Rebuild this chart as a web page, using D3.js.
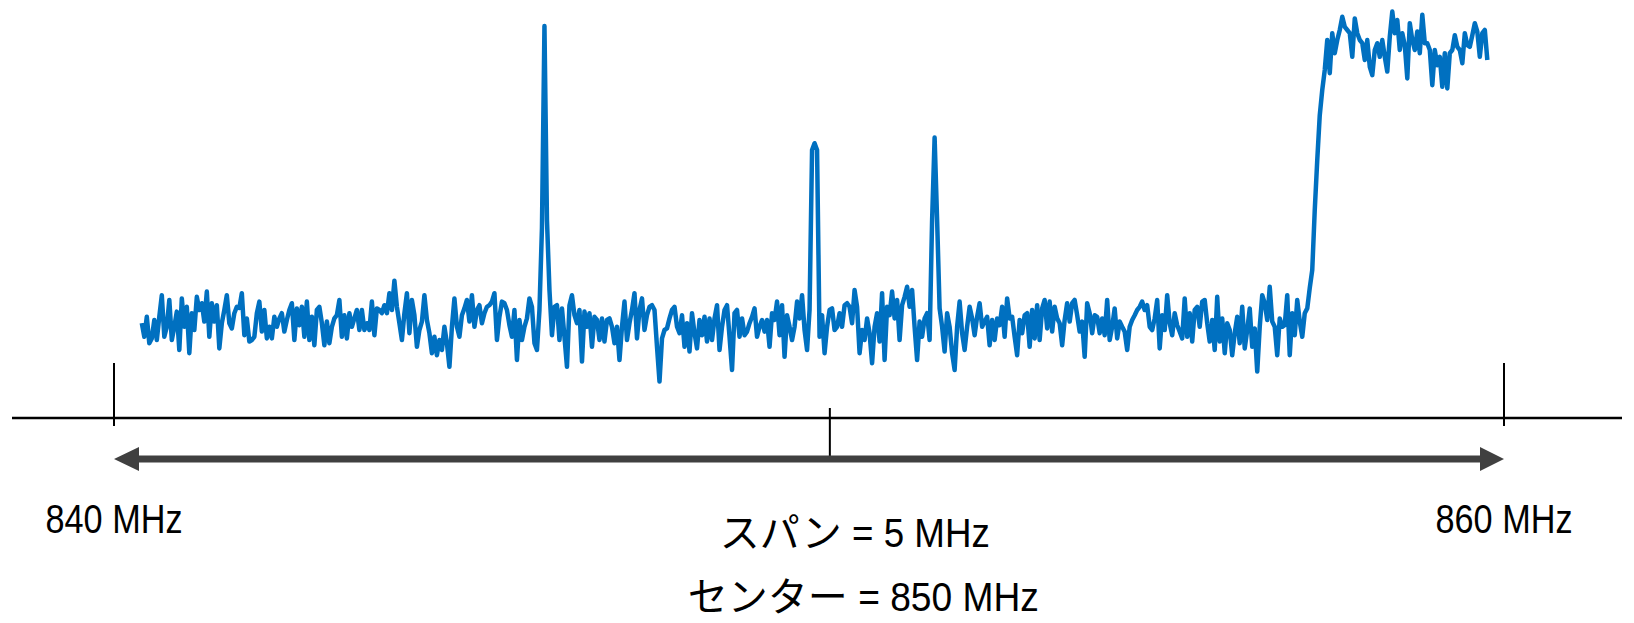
<!DOCTYPE html>
<html>
<head>
<meta charset="utf-8">
<script src="https://cdn.jsdelivr.net/npm/d3@7"></script>
<style>
  body { margin: 0; background: #fff; }
  svg { display: block; }
</style>
</head>
<body>
<script>
// axis / sweep settings, MHz
var axisStart = 840, axisStop = 860;
var traceStart = 840.4, traceStop = 859.76;
var centerMark = 850.3;
var tickFreqs = [840, 860];
var tickLabels = ['840 MHz', '860 MHz'];
var spanText = ['スパン', ' = 5 MHz'];
var centerText = ['センター', ' = 850 MHz'];

// trace levels (dBm), one per sweep point
var levels = [
  -75.8,-79.2,-74.2,-80.8,-79.6,-75.0,-80.0,-74.2,-68.8,-79.2,
  -76.7,-70.0,-80.0,-76.7,-72.9,-82.5,-69.6,-76.7,-71.7,-83.3,
  -73.3,-77.5,-69.2,-72.5,-70.8,-75.4,-67.9,-79.2,-70.8,-75.4,
  -71.3,-82.1,-75.8,-72.5,-68.8,-75.8,-77.1,-73.3,-71.7,-72.0,
  -68.3,-78.8,-74.6,-80.4,-80.0,-79.2,-73.3,-70.4,-77.9,-72.5,
  -79.6,-76.7,-79.6,-74.2,-76.7,-74.6,-73.3,-77.9,-75.0,-72.5,
  -70.8,-80.0,-72.1,-76.3,-71.7,-79.2,-70.4,-80.0,-74.2,-81.3,
  -72.5,-71.7,-75.8,-81.3,-75.4,-80.8,-76.7,-74.6,-73.8,-70.0,
  -79.2,-73.8,-79.6,-73.3,-76.7,-74.6,-72.5,-77.5,-72.5,-77.5,
  -75.8,-77.5,-70.4,-78.8,-72.1,-72.5,-73.3,-71.3,-73.3,-68.3,
  -72.5,-65.2,-71.7,-75.8,-80.0,-73.3,-68.3,-78.3,-70.0,-73.8,
  -81.7,-77.5,-75.4,-68.8,-75.0,-78.3,-83.3,-79.2,-83.8,-80.0,
  -82.5,-76.7,-80.8,-86.7,-76.7,-69.6,-76.7,-79.2,-73.8,-72.1,
  -70.0,-75.4,-68.8,-76.7,-72.5,-71.3,-75.8,-73.3,-71.7,-71.3,
  -70.4,-68.3,-80.0,-74.2,-70.4,-70.8,-72.5,-76.3,-79.2,-72.5,
  -85.0,-75.0,-80.0,-76.7,-74.6,-69.6,-71.7,-80.8,-82.5,-72.5,
  -52.0,-1.5,-50.0,-67.5,-78.8,-71.7,-71.3,-80.0,-72.1,-79.2,
  -86.7,-71.3,-68.8,-73.8,-75.8,-72.5,-85.4,-72.9,-76.7,-73.3,
  -81.7,-74.2,-75.0,-80.0,-74.6,-80.4,-75.0,-74.6,-76.7,-80.8,
  -76.7,-85.0,-76.7,-70.4,-80.0,-75.8,-72.5,-68.3,-79.6,-72.5,
  -69.6,-77.5,-73.8,-71.7,-71.3,-72.5,-81.7,-90.4,-79.6,-77.5,
  -77.1,-74.6,-72.5,-71.7,-76.7,-78.3,-73.8,-81.7,-75.8,-82.9,
  -73.3,-78.3,-82.1,-75.0,-78.8,-74.2,-80.4,-74.6,-80.0,-74.6,
  -71.3,-82.5,-76.7,-72.5,-71.3,-79.2,-87.5,-73.3,-72.5,-79.2,
  -74.6,-78.8,-77.9,-75.8,-74.2,-72.1,-79.2,-76.7,-75.0,-77.9,
  -75.0,-81.7,-73.3,-75.0,-70.4,-78.8,-71.3,-84.2,-73.8,-76.7,
  -80.0,-76.7,-70.4,-74.6,-68.8,-77.5,-82.5,-72.5,-32.5,-30.8,
  -32.5,-79.2,-73.8,-83.3,-76.7,-72.5,-72.1,-77.5,-76.7,-73.3,
  -76.7,-71.3,-70.8,-71.7,-75.8,-67.5,-71.7,-83.3,-77.5,-80.0,
  -74.6,-78.3,-85.8,-76.7,-73.3,-80.4,-68.3,-85.0,-71.7,-73.8,
  -67.9,-74.6,-70.0,-80.0,-71.3,-69.2,-66.7,-71.7,-67.5,-76.7,
  -85.0,-75.4,-79.2,-74.6,-73.3,-80.0,-50.0,-29.4,-50.0,-72.1,
  -76.7,-82.9,-73.3,-76.7,-83.3,-87.5,-76.7,-70.4,-78.3,-82.5,
  -76.7,-71.7,-74.6,-78.8,-74.2,-70.8,-76.7,-75.4,-74.2,-81.3,
  -75.0,-80.0,-74.6,-76.3,-71.7,-79.2,-69.6,-74.6,-74.2,-79.2,
  -83.8,-75.0,-78.3,-73.8,-73.3,-81.7,-72.5,-79.6,-71.3,-80.0,
  -72.1,-70.0,-77.1,-70.4,-77.9,-71.7,-74.6,-75.8,-81.3,-75.0,
  -70.8,-75.4,-70.8,-70.0,-73.8,-77.9,-75.4,-84.2,-70.8,-73.3,
  -78.3,-73.8,-74.2,-78.3,-74.6,-78.8,-70.0,-80.0,-76.7,-72.1,
  -79.6,-75.4,-76.7,-77.9,-82.5,-76.7,-75.0,-73.8,-72.5,-71.7,
  -70.4,-72.5,-71.3,-76.7,-77.5,-74.6,-70.0,-82.1,-73.8,-77.5,
  -68.8,-75.8,-78.8,-73.3,-76.3,-77.9,-79.6,-69.6,-79.2,-73.3,
  -80.4,-72.5,-71.7,-76.7,-70.4,-70.0,-75.8,-80.4,-75.0,-82.5,
  -69.2,-80.4,-74.6,-83.3,-75.8,-77.5,-83.8,-78.3,-74.2,-80.8,
  -71.7,-82.1,-77.5,-72.1,-81.7,-77.1,-87.9,-76.7,-68.8,-70.8,
  -75.0,-66.7,-75.4,-76.7,-83.8,-74.6,-76.7,-76.3,-68.8,-83.8,
  -73.3,-78.8,-70.0,-75.4,-79.2,-73.3,-72.1,-67.0,-62.5,-47.5,
  -35.0,-23.8,-17.5,-12.5,-5.0,-13.3,-3.3,-8.3,-5.0,-2.5,
  0.8,-1.7,-2.5,-3.3,-9.2,0.4,-3.3,-5.0,-5.8,-10.0,
  -5.0,-11.7,-13.8,-7.5,-5.8,-9.2,-5.0,-9.2,-12.9,-4.2,
  2.1,-3.3,0.0,-7.5,-3.3,-6.3,-14.6,-0.8,-5.0,-7.5,
  -2.9,-8.3,1.3,-5.8,-5.8,-7.5,-16.3,-7.5,-11.3,-9.2,
  -16.7,-8.3,-17.1,-8.3,-7.5,-3.8,-6.7,-7.5,-10.8,-3.3,
  -6.3,-6.7,-3.8,-0.8,-2.9,-9.2,-3.3,-2.5,-10.0
];

var width = 1634, height = 623;
var axisY = 418;
var numFont = '"Liberation Sans", Arial, sans-serif';
var jpFont = '"Noto Sans CJK JP", sans-serif';

var svg = d3.select('body').append('svg')
    .attr('width', width)
    .attr('height', height);

var x = d3.scaleLinear().domain([axisStart, axisStop]).range([114, 1504]);
var y = d3.scaleLinear().domain([-100, 0]).range([420, 20]);

var step = (traceStop - traceStart) / (levels.length - 1);
var trace = levels.map(function (v, i) { return [traceStart + i * step, v]; });

// spectrum trace
svg.append('path')
    .datum(trace)
    .attr('fill', 'none')
    .attr('stroke', '#0070c0')
    .attr('stroke-width', 4.5)
    .attr('stroke-linejoin', 'round')
    .attr('d', d3.line().x(function (d) { return x(d[0]); }).y(function (d) { return y(d[1]); }));

// frequency axis
svg.append('line')
    .attr('x1', 12).attr('x2', width - 12)
    .attr('y1', axisY).attr('y2', axisY)
    .attr('stroke', '#000').attr('stroke-width', 2.5);

svg.selectAll('.tick')
    .data(tickFreqs)
    .enter().append('line')
    .attr('x1', function (d) { return x(d); })
    .attr('x2', function (d) { return x(d); })
    .attr('y1', axisY - 55).attr('y2', axisY + 8)
    .attr('stroke', '#000').attr('stroke-width', 2);

svg.append('line')
    .attr('x1', x(centerMark)).attr('x2', x(centerMark))
    .attr('y1', axisY - 10).attr('y2', axisY + 38)
    .attr('stroke', '#000').attr('stroke-width', 2);

// span arrow
var arrowY = 459;
var x0 = x(axisStart), x1 = x(axisStop);
svg.append('line')
    .attr('x1', x0 + 20).attr('x2', x1 - 20)
    .attr('y1', arrowY).attr('y2', arrowY)
    .attr('stroke', '#404040').attr('stroke-width', 7);

svg.append('path')
    .attr('fill', '#404040')
    .attr('d', 'M' + x0 + ',' + arrowY + 'L' + (x0 + 25) + ',' + (arrowY - 12) + 'L' + (x0 + 25) + ',' + (arrowY + 12) + 'Z' +
               'M' + x1 + ',' + arrowY + 'L' + (x1 - 24) + ',' + (arrowY - 12) + 'L' + (x1 - 24) + ',' + (arrowY + 12) + 'Z');

// edge labels (condensed look via textLength)
svg.selectAll('.edge-label')
    .data(tickFreqs)
    .enter().append('text')
    .attr('x', function (d) { return x(d); })
    .attr('y', 533)
    .attr('text-anchor', 'middle')
    .attr('textLength', 137)
    .attr('lengthAdjust', 'spacingAndGlyphs')
    .style('font-family', numFont)
    .style('font-size', '41px')
    .attr('fill', '#000')
    .text(function (d, i) { return tickLabels[i]; });

function mixedText(parts, left, cy, numWidth) {
  var t = svg.append('text')
      .attr('x', left).attr('y', cy)
      .attr('fill', '#000');
  t.append('tspan').style('font-family', jpFont).style('font-size', '40px').text(parts[0]);
  t.append('tspan').style('font-family', numFont).style('font-size', '41px')
      .attr('xml:space', 'preserve')
      .attr('textLength', numWidth)
      .attr('lengthAdjust', 'spacingAndGlyphs')
      .text(parts[1]);
  return t;
}

mixedText(spanText, x(centerMark) - 110, 547, 148);
mixedText(centerText, x(centerMark) - 142, 611, 191);
</script>
</body>
</html>
